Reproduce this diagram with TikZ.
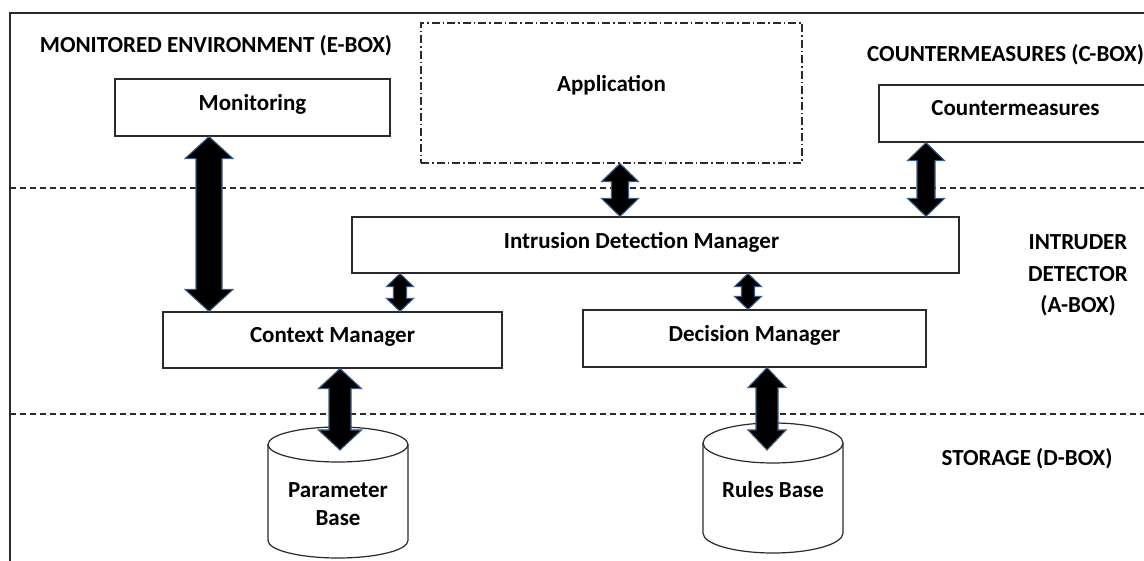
\documentclass[tikz,border=0pt]{standalone}
\usepackage{fontspec}
\setmainfont{Carlito}
\usetikzlibrary{calc}
\definecolor{arrowblue}{HTML}{3A5F85}
\definecolor{linegray}{HTML}{2A2A2A}
\newcommand\dblarr[6]{%
  \draw[fatarrow] let \p1=(#2), \p2=(#3) in
   (#1,\y1) -- (#1+#5,\y1-#6) -- (#1+#4,\y1-#6) -- (#1+#4,\y2+#6) -- (#1+#5,\y2+#6) --
   (#1,\y2) -- (#1-#5,\y2+#6) -- (#1-#4,\y2+#6) -- (#1-#4,\y1-#6) -- (#1-#5,\y1-#6) -- cycle;}
\tikzset{
  txt/.style={font=\fontsize{23}{31.5}\selectfont\bfseries, inner sep=0pt},
  box/.style={txt, draw=linegray, line width=1.2pt, rectangle, fill=white},
  appbox/.style={box, dash pattern=on 8pt off 3pt on 1.5pt off 3pt},
  fatarrow/.style={fill=black, draw=arrowblue, line width=1.1pt, line join=miter},
  sep/.style={draw=linegray, dash pattern=on 6pt off 4pt, line width=1.1pt},
  frame/.style={draw=linegray, line width=1.3pt},
  cyl/.style={draw=linegray, line width=1.2pt}
}
\begin{document}
\begin{tikzpicture}[x=1pt,y=1pt]
\useasboundingbox (0,0) rectangle (1144,560);
\clip (0,0) rectangle (1144,560);
\fill[white] (0,0) rectangle (1144,560);
% frame and separators
\draw[frame] (10,-20) -- (10,547) -- (1170,547);
\draw[sep] (10,372) -- (1144,372);
\draw[sep] (10,146) -- (1144,146);
% section labels
\node[txt] (ebox) at (216,514) {MONITORED ENVIRONMENT (E-BOX)};
\node[txt, anchor=west] (cbox) at (867,505) {COUNTERMEASURES (C-BOX)};
\node[txt, align=center] (abox) at (1078,284.5) {INTRUDER\\DETECTOR\\(A-BOX)};
\node[txt] (dbox) at (1027,101) {STORAGE (D-BOX)};
% boxes
\node[box, minimum width=275pt, minimum height=57pt] (mon) at (252.5,452.5) {\raisebox{11pt}{Monitoring}};
\node[appbox, minimum width=381pt, minimum height=140pt] (app) at (611.5,467) {\raisebox{20pt}{Application}};
\node[box, minimum width=273pt, minimum height=57pt] (cmb) at (1015.5,446.5) {\raisebox{11pt}{Countermeasures}};
\node[box, minimum width=607pt, minimum height=56pt] (idm) at (655.5,315) {\hspace*{-28pt}\raisebox{10pt}{Intrusion Detection Manager}};
\node[box, minimum width=339pt, minimum height=56pt] (ctx) at (332.5,220) {\raisebox{10pt}{Context Manager}};
\node[box, minimum width=343pt, minimum height=57pt] (dm) at (754.5,221.5) {\raisebox{11pt}{Decision Manager}};
% cylinders
\draw[cyl, fill=white] (268,115.5) -- (268,19.5) arc[start angle=180,end angle=360,x radius=70,y radius=17.5] -- (408,115.5);
\draw[cyl] (338,115.5) ellipse [x radius=70, y radius=17.5];
\node[txt, align=center, font=\fontsize{23}{28}\selectfont\bfseries] (pb) at (338,56) {Parameter\\Base};
\draw[cyl, fill=white] (703,117) -- (703,27) arc[start angle=180,end angle=360,x radius=70,y radius=20] -- (843,117);
\draw[cyl] (773,117) ellipse [x radius=70, y radius=20];
\node[txt] (rb) at (773,70) {Rules Base};
\coordinate (pbarr) at (340,110);
\coordinate (rbarr) at (767,110);
% arrows
\dblarr{209}{mon.south}{ctx.north}{13}{24}{22}
\dblarr{620}{app.south}{idm.north}{8.5}{18.5}{18}
\dblarr{926}{cmb.south}{idm.north}{9}{18.5}{18}
\dblarr{400}{idm.south}{ctx.north}{6.5}{13.5}{13}
\dblarr{748}{idm.south}{dm.north}{6.5}{13.5}{13}
\dblarr{340}{ctx.south}{pbarr}{11}{21.5}{20}
\dblarr{767}{dm.south}{rbarr}{11}{19}{20}
\end{tikzpicture}
\end{document}
